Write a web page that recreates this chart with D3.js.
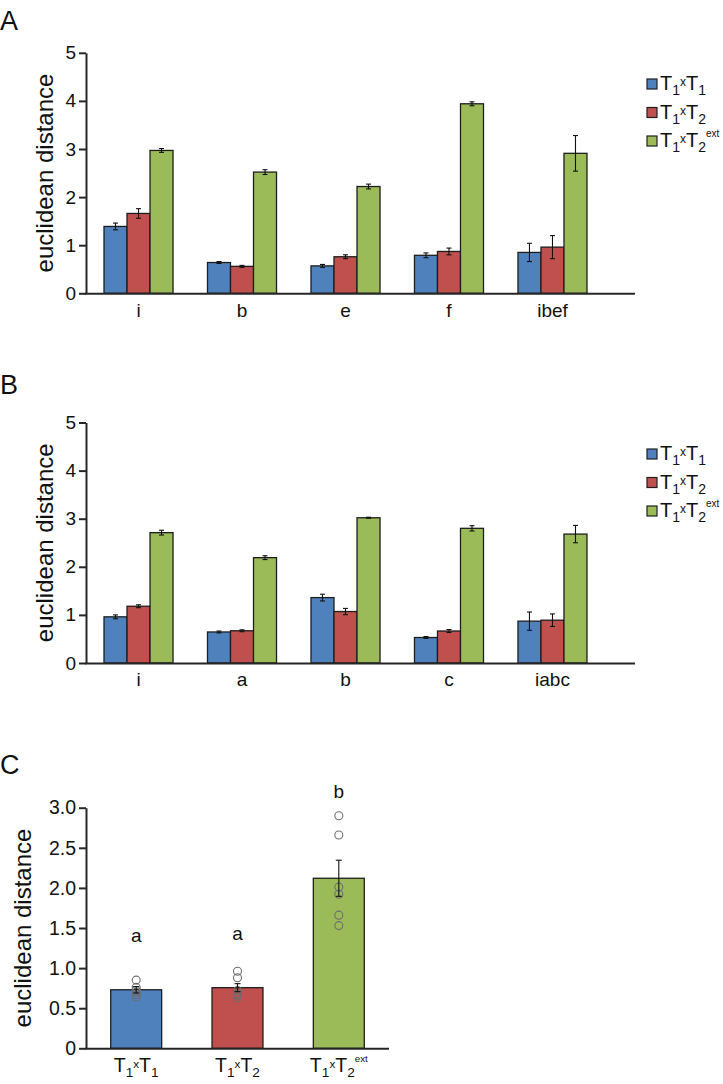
<!DOCTYPE html>
<html>
<head>
<meta charset="utf-8">
<script src="https://cdn.jsdelivr.net/npm/d3@7/dist/d3.min.js"></script>
<style>
  html, body { margin: 0; padding: 0; background: #fff; }
  svg { display: block; font-family: "Liberation Sans", Arial, Helvetica, sans-serif; }
</style>
</head>
<body>
<svg id="chart" width="723" height="1084"></svg>
<script>
// ---------------- DATA ----------------
const seriesKeys = ["T1xT1", "T1xT2", "T1xT2ext"];
const seriesColors = ["#4f81bd", "#c0504d", "#9bbb59"];

const groupsA = ["i", "b", "e", "f", "ibef"];
const meanA_T1T1    = [1.39, 0.64, 0.57, 0.79, 0.85];
const meanA_T1T2    = [1.66, 0.56, 0.76, 0.87, 0.96];
const meanA_T1T2ext = [2.97, 2.52, 2.22, 3.94, 2.91];
const errA_T1T1     = [0.07, 0.02, 0.03, 0.05, 0.19];
const errA_T1T2     = [0.10, 0.02, 0.04, 0.07, 0.24];
const errA_T1T2ext  = [0.04, 0.05, 0.05, 0.04, 0.37];

const groupsB = ["i", "a", "b", "c", "iabc"];
const meanB_T1T1    = [0.96, 0.645, 1.36, 0.53, 0.87];
const meanB_T1T2    = [1.18, 0.67, 1.07, 0.665, 0.89];
const meanB_T1T2ext = [2.71, 2.19, 3.02, 2.80, 2.68];
const errB_T1T1     = [0.04, 0.02, 0.07, 0.02, 0.19];
const errB_T1T2     = [0.03, 0.02, 0.065, 0.03, 0.13];
const errB_T1T2ext  = [0.05, 0.04, 0.01, 0.055, 0.18];

const yTicksAB = [0, 1, 2, 3, 4, 5];

const groupsC = ["T1xT1", "T1xT2", "T1xT2ext"];
const meanC = [0.73, 0.756, 2.12];
const errC  = [0.04, 0.05, 0.225];
const pointsC_T1T1    = [0.85, 0.76, 0.72, 0.70, 0.67, 0.64];
const pointsC_T1T2    = [0.96, 0.88, 0.72, 0.68, 0.66, 0.63];
const pointsC_T1T2ext = [2.90, 2.66, 2.01, 1.92, 1.66, 1.53];
const lettersC = ["a", "a", "b"];
const letterLevelC = [1.33, 1.35, 3.12];
const yTicksC = [0, 0.5, 1.0, 1.5, 2.0, 2.5, 3.0];

// label parts for the rich "T1xT2ext" labels
const labelParts = {
  "T1xT1":    [["T","n"],["1","sub"],["x","x"],["T","n"],["1","sub"]],
  "T1xT2":    [["T","n"],["1","sub"],["x","x"],["T","n"],["2","sub"]],
  "T1xT2ext": [["T","n"],["1","sub"],["x","x"],["T","n"],["2","sub"],["ext","sup"]]
};

// ---------------- HELPERS ----------------
const svg = d3.select("#chart");
const AXIS_COLOR = "#262626";
const BAR_STROKE = "#1e1e1e";

function richText(sel, key, base) {
  const parts = labelParts[key];
  let cur = 0;
  parts.forEach(([t, kind]) => {
    let size = base, off = 0;
    if (kind === "sub") { size = base * 0.7; off = base * 0.27; }
    else if (kind === "x") { size = base * 0.6; off = -base * 0.2; }
    else if (kind === "sup") { size = base * 0.5; off = -base * 0.52; }
    sel.append("tspan").attr("font-size", size).attr("dy", off - cur).text(t);
    cur = off;
  });
}

function barPanel(cfg) {
  const g = svg.append("g");
  const x0 = d3.scaleBand().domain(cfg.groups).range([86, 605])
    .paddingInner(0.333).paddingOuter(0.174);
  const x1 = d3.scaleBand().domain(seriesKeys).range([0, x0.bandwidth()]).padding(0);
  const y = d3.scaleLinear().domain([0, 5]).range([cfg.y0, cfg.y0 - 240.5]);
  const color = d3.scaleOrdinal().domain(seriesKeys).range(seriesColors);

  const rows = [];
  cfg.groups.forEach((grp, i) => {
    seriesKeys.forEach((k, j) => {
      rows.push({ grp, key: k, v: cfg.means[j][i], e: cfg.errs[j][i] });
    });
  });

  g.selectAll("rect.bar").data(rows).join("rect")
    .attr("class", "bar")
    .attr("x", d => x0(d.grp) + x1(d.key))
    .attr("y", d => y(d.v))
    .attr("width", x1.bandwidth())
    .attr("height", d => y(0) - y(d.v))
    .attr("fill", d => color(d.key))
    .attr("stroke", BAR_STROKE).attr("stroke-width", 1.3);

  // error bars
  const eb = g.selectAll("g.err").data(rows).join("g").attr("class", "err")
    .attr("stroke", "#111").attr("stroke-width", 1.1);
  const cx = d => x0(d.grp) + x1(d.key) + x1.bandwidth() / 2;
  eb.append("line").attr("x1", cx).attr("x2", cx)
    .attr("y1", d => y(d.v + d.e)).attr("y2", d => y(d.v - d.e));
  eb.append("line").attr("x1", d => cx(d) - 2.5).attr("x2", d => cx(d) + 2.5)
    .attr("y1", d => y(d.v + d.e)).attr("y2", d => y(d.v + d.e));
  eb.append("line").attr("x1", d => cx(d) - 2.5).attr("x2", d => cx(d) + 2.5)
    .attr("y1", d => y(d.v - d.e)).attr("y2", d => y(d.v - d.e));

  // y axis
  const ya = g.append("g").attr("transform", "translate(86,0)")
    .call(d3.axisLeft(y).tickValues(yTicksAB).tickFormat(d3.format("d")).tickSize(7).tickPadding(3).tickSizeOuter(0));
  ya.select(".domain").attr("stroke", AXIS_COLOR).attr("stroke-width", 2);
  ya.selectAll(".tick line").attr("stroke", AXIS_COLOR).attr("stroke-width", 2);
  ya.selectAll(".tick text").attr("font-size", 19).attr("fill", "#111")
    .attr("font-family", "Liberation Sans, Arial, sans-serif");

  // x axis
  const xa = g.append("g").attr("transform", `translate(0,${cfg.y0})`)
    .call(d3.axisBottom(x0).tickSize(0).tickPadding(10).tickSizeOuter(0));
  xa.select(".domain").attr("d", "M85,0.5H635").attr("stroke", AXIS_COLOR).attr("stroke-width", 2);
  xa.selectAll(".tick text").attr("font-size", 19).attr("fill", "#111")
    .attr("font-family", "Liberation Sans, Arial, sans-serif");

  // y title
  g.append("text").attr("transform", `translate(53,${(y(0) + y(5)) / 2}) rotate(-90)`)
    .attr("text-anchor", "middle").attr("font-size", 24).attr("fill", "#111")
    .text("euclidean distance");

  // panel letter
  g.append("text").attr("x", 0).attr("y", cfg.letterY).attr("font-size", 27).attr("fill", "#111").text(cfg.letter);

  // legend
  const leg = g.append("g");
  seriesKeys.forEach((k, j) => {
    const cy = cfg.legendY + j * 28.5;
    leg.append("rect").attr("x", 647).attr("y", cy - 5).attr("width", 10).attr("height", 10)
      .attr("fill", seriesColors[j]).attr("stroke", BAR_STROKE).attr("stroke-width", 1.2);
    const t = leg.append("text").attr("x", 660).attr("y", cy + 6).attr("fill", "#111");
    richText(t, k, 20);
  });
}

barPanel({
  letter: "A", letterY: 30, y0: 293.3, legendY: 84,
  groups: groupsA,
  means: [meanA_T1T1, meanA_T1T2, meanA_T1T2ext],
  errs: [errA_T1T1, errA_T1T2, errA_T1T2ext]
});
barPanel({
  letter: "B", letterY: 394, y0: 663, legendY: 454,
  groups: groupsB,
  means: [meanB_T1T1, meanB_T1T2, meanB_T1T2ext],
  errs: [errB_T1T1, errB_T1T2, errB_T1T2ext]
});

// ---------------- PANEL C ----------------
(function () {
  const g = svg.append("g");
  const x = d3.scaleBand().domain(groupsC).range([86, 389]).paddingInner(0.497).paddingOuter(0.244);
  const y = d3.scaleLinear().domain([0, 3]).range([1048.3, 807.7]);
  const pts = [pointsC_T1T1, pointsC_T1T2, pointsC_T1T2ext];
  const rows = groupsC.map((k, i) => ({ key: k, v: meanC[i], e: errC[i], pts: pts[i], lab: lettersC[i], ly: letterLevelC[i], col: seriesColors[i] }));

  g.selectAll("rect.bar").data(rows).join("rect")
    .attr("x", d => x(d.key)).attr("y", d => y(d.v))
    .attr("width", x.bandwidth()).attr("height", d => y(0) - y(d.v))
    .attr("fill", d => d.col).attr("stroke", BAR_STROKE).attr("stroke-width", 1.3);

  const cx = d => x(d.key) + x.bandwidth() / 2;
  // points
  rows.forEach(d => {
    g.selectAll(null).data(d.pts).join("circle")
      .attr("cx", cx(d)).attr("cy", v => y(v)).attr("r", 4)
      .attr("fill", "none").attr("stroke", "#6e6e6e").attr("stroke-width", 1.1);
  });
  // error bars
  const eb = g.selectAll("g.err").data(rows).join("g").attr("stroke", "#111").attr("stroke-width", 1.1);
  eb.append("line").attr("x1", cx).attr("x2", cx).attr("y1", d => y(d.v + d.e)).attr("y2", d => y(d.v - d.e));
  eb.append("line").attr("x1", d => cx(d) - 3).attr("x2", d => cx(d) + 3).attr("y1", d => y(d.v + d.e)).attr("y2", d => y(d.v + d.e));
  eb.append("line").attr("x1", d => cx(d) - 3).attr("x2", d => cx(d) + 3).attr("y1", d => y(d.v - d.e)).attr("y2", d => y(d.v - d.e));

  // letters
  g.selectAll("text.sig").data(rows).join("text").attr("class", "sig")
    .attr("x", cx).attr("y", d => y(d.ly)).attr("text-anchor", "middle")
    .attr("font-size", 19).attr("fill", "#111").text(d => d.lab);

  // y axis
  const ya = g.append("g").attr("transform", "translate(86,0)")
    .call(d3.axisLeft(y).tickValues(yTicksC).tickFormat(d => d === 0 ? "0" : d3.format(".1f")(d)).tickSize(7).tickPadding(3).tickSizeOuter(0));
  ya.select(".domain").attr("stroke", AXIS_COLOR).attr("stroke-width", 2);
  ya.selectAll(".tick line").attr("stroke", AXIS_COLOR).attr("stroke-width", 2);
  ya.selectAll(".tick text").attr("font-size", 19.5).attr("fill", "#111")
    .attr("font-family", "Liberation Sans, Arial, sans-serif");

  // x axis
  const xa = g.append("g").attr("transform", "translate(0,1048.3)")
    .call(d3.axisBottom(x).tickSize(0).tickPadding(10).tickFormat("").tickSizeOuter(0));
  xa.select(".domain").attr("d", "M85,0.5H389").attr("stroke", AXIS_COLOR).attr("stroke-width", 2);
  xa.selectAll(".tick").each(function (k) {
    const t = d3.select(this).select("text").text(null)
      .attr("y", 23.5).attr("dy", null).attr("text-anchor", "middle").attr("fill", "#111")
      .attr("font-family", "Liberation Sans, Arial, sans-serif");
    richText(t, k, 19.5);
  });

  g.append("text").attr("transform", `translate(31,928) rotate(-90)`)
    .attr("text-anchor", "middle").attr("font-size", 24).attr("fill", "#111")
    .text("euclidean distance");

  g.append("text").attr("x", 0).attr("y", 774).attr("font-size", 27).attr("fill", "#111").text("C");
})();
</script>
</body>
</html>
